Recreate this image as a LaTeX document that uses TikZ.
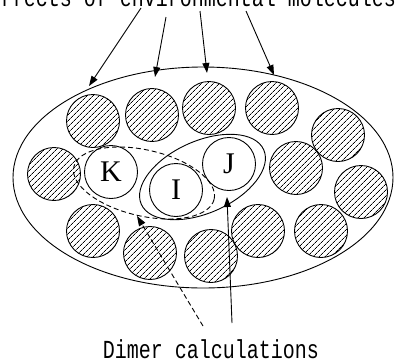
\documentclass[tikz,border=0pt]{standalone}
\usepackage{fontspec}
\setmainfont{Liberation Serif}
\setmonofont{Liberation Mono}
\usepackage{tikz}
\usetikzlibrary{arrows.meta,positioning,shapes.geometric,patterns.meta}

\tikzset{
  mol/.style={circle,draw,minimum size=53pt,inner sep=0pt,
    pattern={Lines[angle=45,distance=4pt,line width=0.7pt]}},
  target/.style={circle,draw,fill=white,minimum size=53pt,inner sep=0pt,
    font=\fontsize{30}{30}\selectfont},
  caption/.style={inner sep=0pt,anchor=base,font=\ttfamily\fontsize{20}{20}\selectfont},
}

\begin{document}
\begin{tikzpicture}[x=1pt,y=-1pt,line width=0.9pt,>={Triangle[length=10pt,width=7pt]}]
  \useasboundingbox (0,0) rectangle (395,362);
  \clip (0,0) rectangle (395,362);
  \node[ellipse,draw,minimum width=380pt,minimum height=221pt,inner sep=0pt] (shell) at (203,177.5) {};
  \node[mol] (m1) at (93,121) {};
  \node[mol] (m2) at (152,115) {};
  \node[mol] (m3) at (209,108) {};
  \node[mol] (m4) at (272,108) {};
  \node[mol] (m5) at (338,135) {};
  \node[mol] (m6) at (54,174) {};
  \node[mol] (m7) at (296,168) {};
  \node[mol] (m8) at (361,192) {};
  \node[mol] (m9) at (93,231) {};
  \node[mol] (m10) at (150,253) {};
  \node[mol] (m11) at (211,256) {};
  \node[mol] (m12) at (258,231) {};
  \node[mol] (m13) at (321,231) {};
  \node[target] (K) at (111,172) {K};
  \node[target] (I) at (176,190) {I};
  \node[target] (J) at (229,164) {J};
  \node[ellipse,draw,minimum width=134pt,minimum height=72pt,inner sep=0pt,rotate=24] (IJ) at (202.5,177) {}; % 二量体 I-J
  \node[ellipse,draw,dash pattern=on 5pt off 3pt,minimum width=144pt,minimum height=66pt,inner sep=0pt,rotate=-13] (KI) at (144,183) {}; % 二量体 K-I
  \node[caption] (env) at (192,6) {\scalebox{1}[1.3]{Effects of environmental molecules}};
  \node[caption] (dimer) at (211,358.5) {\scalebox{1}[1.3]{Dimer calculations}};
  \coordinate (s1) at (141,8);
  \coordinate (s2) at (166,17);
  \coordinate (s3) at (200,11);
  \coordinate (s4) at (246,11);
  \coordinate (t1) at (89,86);
  \coordinate (t2) at (155,77);
  \coordinate (t3) at (207,73);
  \coordinate (t4) at (274,75);
  \draw[->] (s1) -- (t1);
  \draw[->] (s2) -- (t2);
  \draw[->] (s3) -- (t3);
  \draw[->] (s4) -- (t4);
  \coordinate (d1) at (203,326);
  \coordinate (d2) at (232,323);
  \coordinate (e1) at (137,216);
  \coordinate (e2) at (227,197);
  \draw[->,dash pattern=on 5pt off 3pt] (d1) -- (e1);
  \draw[->] (d2) -- (e2);
\end{tikzpicture}
\end{document}
